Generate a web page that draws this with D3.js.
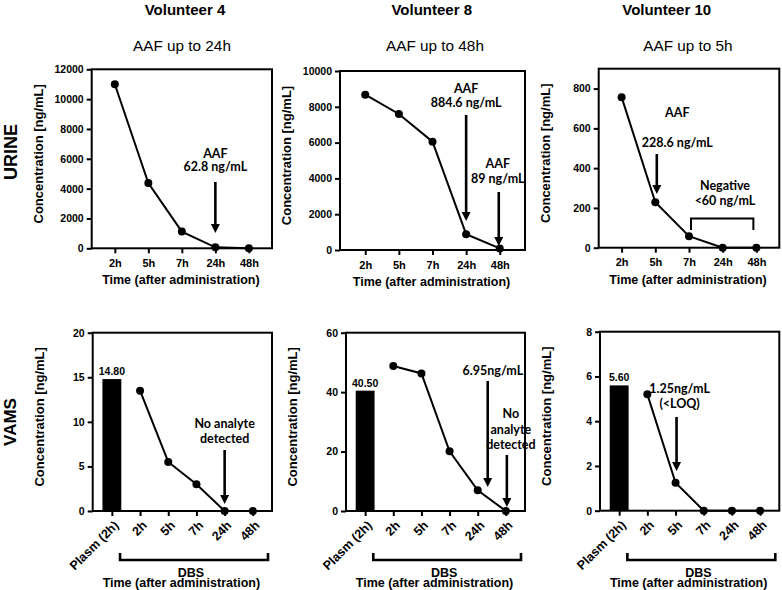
<!doctype html>
<html lang="en">
<head>
<meta charset="utf-8">
<title>AAF - urine and VAMS</title>
<script src="https://d3js.org/d3.v7.min.js"></script>
<style>
  body { margin: 0; background: #fff; }
  svg text { font-family: Arial, "Liberation Sans", sans-serif; font-weight: bold; fill: #000; }
  svg text.note { font-family: Lato, "Open Sans", sans-serif; }
</style>
</head>
<body>
<svg id="chart" width="782" height="590"></svg>
<script>
// ---- data ----
var times = ["2h", "5h", "7h", "24h", "48h"];
var plasmaLabel = "Plasm (2h)";

var volunteers = ["Volunteer 4", "Volunteer 8", "Volunteer 10"];
var aafWindows = ["AAF up to 24h", "AAF up to 48h", "AAF up to 5h"];

var urineV4 = [11000, 4380, 1120, 62.8, 0];
var urineV8 = [8680, 7600, 6050, 884.6, 89];
var urineV10 = [757, 228.6, 58, 0, 0];

var plasma = [14.80, 40.50, 5.60];
var vamsV4 = [13.5, 5.5, 3.0, 0, 0];
var vamsV8 = [48.8, 46.3, 20.1, 6.95, 0];
var vamsV10 = [5.2, 1.25, 0, 0, 0];

var urineTicks = [[0, 2000, 4000, 6000, 8000, 10000, 12000], [0, 2000, 4000, 6000, 8000, 10000], [0, 200, 400, 600, 800]];
var urineMax = [12000, 10000, 900];
var vamsTicks = [[0, 5, 10, 15, 20], [0, 20, 40, 60], [0, 2, 4, 6, 8]];
var vamsMax = [20, 60, 8];

var svg = d3.select("#chart");

// plot boxes (pixels)
var urineBox = [
  {left: 91.7, right: 272, top: 69.3, bottom: 248.3, pad: 0.69},
  {left: 340, right: 525, top: 71, bottom: 250, pad: 0.75},
  {left: 598.7, right: 779.3, top: 68.7, bottom: 247.7, pad: 0.68}
];
var vamsBox = [
  {left: 92.7, right: 272, top: 332.7, bottom: 511, pad: 0.68},
  {left: 346, right: 525, top: 332.7, bottom: 511, pad: 0.68},
  {left: 600, right: 779.3, top: 331.7, bottom: 510.7, pad: 0.68}
];

function arrow(g, x, y1, y2) {
  g.append("line").attr("x1", x).attr("x2", x).attr("y1", y1).attr("y2", y2 - 7)
    .attr("stroke", "#000").attr("stroke-width", 2.6);
  g.append("path").attr("d", "M" + (x - 4.5) + "," + (y2 - 9) + "L" + (x + 4.5) + "," + (y2 - 9) + "L" + x + "," + y2 + "Z")
    .attr("fill", "#000");
}

function noteText(g, x, y, lines, gap) {
  lines.forEach(function(s, i) {
    g.append("text").attr("class", "note").attr("x", x).attr("y", y + i * gap)
      .attr("text-anchor", "middle").style("font-size", "12.5px").text(s);
  });
}

function drawPanel(b, values, ymax, ticks, barValue) {
  var g = svg.append("g");
  var cats = barValue != null ? [plasmaLabel].concat(times) : times;
  var x = d3.scalePoint().domain(cats).range([b.left, b.right]).padding(b.pad);
  var y = d3.scaleLinear().domain([0, ymax]).range([b.bottom, b.top]);

  var ya = g.append("g").attr("transform", "translate(" + b.left + ",0)")
    .call(d3.axisLeft(y).tickValues(ticks).tickSize(5).tickPadding(3).tickFormat(d3.format("d")));
  ya.select(".domain").remove();
  ya.selectAll("line").attr("stroke-width", 2);
  ya.selectAll("text").style("font-size", "10.5px");

  var xa = g.append("g").attr("transform", "translate(0," + b.bottom + ")")
    .call(d3.axisBottom(x).tickSize(5).tickPadding(6));
  xa.select(".domain").remove();
  xa.selectAll("line").attr("stroke-width", 2);
  xa.selectAll("text").style("font-size", "11px");
  if (barValue != null) {
    xa.selectAll("text")
      .style("font-size", "12.5px")
      .attr("text-anchor", "end")
      .attr("y", 0).attr("dy", "0.35em")
      .attr("transform", "translate(4,12) rotate(-45)");
  }

  g.append("rect").attr("x", b.left).attr("y", b.top)
    .attr("width", b.right - b.left).attr("height", b.bottom - b.top)
    .attr("fill", "none").attr("stroke", "#000").attr("stroke-width", 2);

  if (barValue != null) {
    var w = x.step() * 0.67;
    g.append("rect").attr("x", x(plasmaLabel) - w / 2).attr("y", y(barValue))
      .attr("width", w).attr("height", b.bottom - y(barValue)).attr("fill", "#000");
    g.append("text").attr("x", x(plasmaLabel)).attr("y", y(barValue) - 4)
      .attr("text-anchor", "middle").style("font-size", "10.5px").text(barValue.toFixed(2));
  }

  var pts = times.map(function(t, i) { return {t: t, v: values[i]}; });
  g.append("path").datum(pts)
    .attr("d", d3.line().x(function(d) { return x(d.t); }).y(function(d) { return y(d.v); }))
    .attr("fill", "none").attr("stroke", "#000").attr("stroke-width", 2);
  g.selectAll("circle.pt").data(pts).enter().append("circle")
    .attr("cx", function(d) { return x(d.t); }).attr("cy", function(d) { return y(d.v); })
    .attr("r", 4).attr("fill", "#000");

  return {g: g, x: x, y: y};
}

// ---- titles and row labels ----
var titleX = [185, 431.7, 666.7];
var subX = [182, 435, 688];
volunteers.forEach(function(s, i) {
  svg.append("text").attr("x", titleX[i]).attr("y", 15).attr("text-anchor", "middle")
    .style("font-size", "15px").text(s);
  svg.append("text").attr("x", subX[i]).attr("y", 51).attr("text-anchor", "middle")
    .style("font-size", "15.3px").style("font-weight", "normal").text(aafWindows[i]);
});
svg.append("text").attr("transform", "translate(17,152) rotate(-90)").attr("text-anchor", "middle")
  .style("font-size", "18px").text("URINE");
svg.append("text").attr("transform", "translate(16,422) rotate(-90)").attr("text-anchor", "middle")
  .style("font-size", "17px").text("VAMS");

// ---- panels ----
var urineVals = [urineV4, urineV8, urineV10];
var vamsVals = [vamsV4, vamsV8, vamsV10];
var up = urineBox.map(function(b, i) { return drawPanel(b, urineVals[i], urineMax[i], urineTicks[i], null); });
var vp = vamsBox.map(function(b, i) { return drawPanel(b, vamsVals[i], vamsMax[i], vamsTicks[i], plasma[i]); });

// axis titles
urineBox.forEach(function(b) {
  var cx = b.left - 49, cy = (b.top + b.bottom) / 2 - 5;
  svg.append("text").attr("transform", "translate(" + cx + "," + cy + ") rotate(-90)")
    .attr("text-anchor", "middle").style("font-size", "13px").text("Concentration [ng/mL]");
  svg.append("text").attr("x", (b.left + b.right) / 2 - 1).attr("y", b.bottom + 36)
    .attr("text-anchor", "middle").style("font-size", "12.5px").text("Time (after administration)");
});
vamsBox.forEach(function(b, i) {
  var cx = b.left - 49, cy = (b.top + b.bottom) / 2 - 5;
  svg.append("text").attr("transform", "translate(" + cx + "," + cy + ") rotate(-90)")
    .attr("text-anchor", "middle").style("font-size", "13px").text("Concentration [ng/mL]");
  var x = vp[i].x;
  var x1 = x("2h") - 20, x2 = b.right - 4;
  svg.append("path").attr("d", "M" + x1 + ",553V560H" + x2 + "V553")
    .attr("fill", "none").attr("stroke", "#000").attr("stroke-width", 2.6);
  // in the source figure "DBS" sits right on top of the axis title
  svg.append("text").attr("x", (x1 + x2) / 2 - 3).attr("y", 577).attr("text-anchor", "middle")
    .style("font-size", "12.5px").text("DBS");
  svg.append("text").attr("x", (b.left + b.right) / 2 - 1).attr("y", 587).attr("text-anchor", "middle")
    .style("font-size", "12.5px").text("Time (after administration)");
});

// ---- annotations ----
var a = up[0];
noteText(a.g, a.x("24h"), 158, ["AAF", "62.8 ng/mL"], 13);
arrow(a.g, a.x("24h"), 182, 233);

a = up[1];
noteText(a.g, a.x("24h"), 93, ["AAF", "884.6 ng/mL"], 13.5);
arrow(a.g, a.x("24h"), 115, 221);
noteText(a.g, a.x("48h") - 2, 168, ["AAF", "89 ng/mL"], 15);
arrow(a.g, a.x("48h") - 1, 192, 246);

a = up[2];
noteText(a.g, a.x("5h") + 22, 117, ["AAF"], 0);
noteText(a.g, a.x("5h") + 22, 147, ["228.6 ng/mL"], 0);
arrow(a.g, a.x("5h") + 1.5, 154, 194);
noteText(a.g, a.x("7h") + 36, 190, ["Negative", "<60 ng/mL"], 14.5);
a.g.append("path").attr("d", "M" + (a.x("7h") + 2) + ",230V218.5H" + (a.x("48h") - 3) + "V230")
  .attr("fill", "none").attr("stroke", "#000").attr("stroke-width", 2);

a = vp[0];
noteText(a.g, a.x("24h"), 428, ["No analyte", "detected"], 14.5);
arrow(a.g, a.x("24h"), 450, 504);

a = vp[1];
noteText(a.g, a.x("48h") - 13, 375, ["6.95ng/mL"], 0);
arrow(a.g, a.x("24h") + 10, 381, 487);
noteText(a.g, a.x("48h") + 5, 418, ["No", "analyte", "detected"], 15.5);
arrow(a.g, a.x("48h") + 1, 455, 507);

a = vp[2];
noteText(a.g, a.x("5h") + 4, 393, ["1.25ng/mL", "(<LOQ)"], 15);
arrow(a.g, a.x("5h") + 1, 417, 471);
</script>
</body>
</html>
